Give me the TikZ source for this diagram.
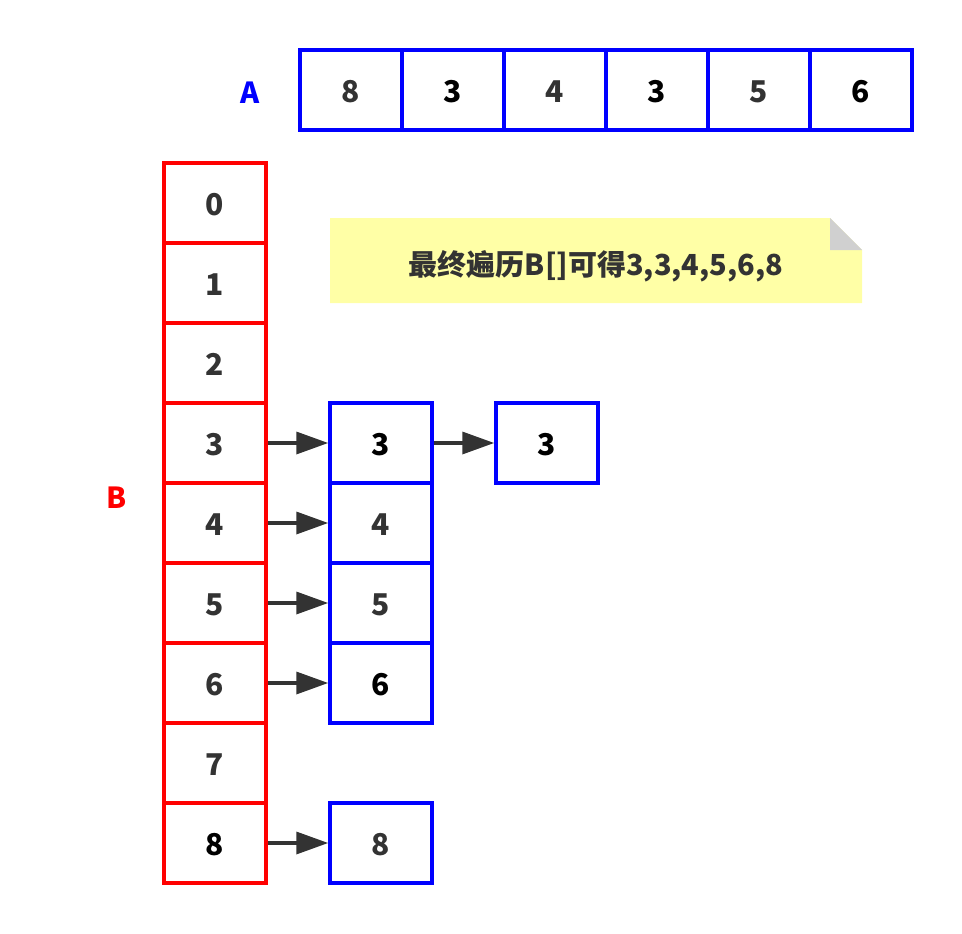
\documentclass[tikz,border=0pt]{standalone}
\usepackage{fontspec}
\setmainfont{Noto Sans CJK SC}
\usetikzlibrary{arrows.meta}
\definecolor{tgray}{HTML}{333333}
\definecolor{ablue}{HTML}{0000FF}
\definecolor{bred}{HTML}{FF0000}
\definecolor{noteyellow}{HTML}{FFFFA6}
\definecolor{foldgray}{HTML}{D0D0D0}
\tikzset{
  cell/.style={draw, line width=3.5pt, minimum width=102pt, minimum height=80pt, inner sep=0pt,
    text height=25pt, text depth=0pt,
    font=\fontsize{30}{34}\selectfont\bfseries, text=tgray},
  acell/.style={cell, draw=ablue},
  bcell/.style={cell, draw=bred},
  dark/.style={text=black},
  ptr/.style={draw=tgray, line width=3.5pt, -{Triangle[length=32pt,width=22pt]}},
  lbl/.style={font=\fontsize{29}{34}\selectfont\bfseries, inner sep=0pt}
}
\begin{document}
\begin{tikzpicture}[x=1pt,y=-1pt]
\useasboundingbox (0,0) rectangle (962,934);
% array A
\node[lbl, text=ablue] (la) at (250,93) {A};
\node[acell] (a0) at (351,90) {8};
\node[acell, dark] (a1) at (453,90) {3};
\node[acell] (a2) at (555,90) {4};
\node[acell, dark] (a3) at (657,90) {3};
\node[acell] (a4) at (759,90) {5};
\node[acell, dark] (a5) at (861,90) {6};
% array B
\node[lbl, text=bred] (lb) at (117,498) {B};
\node[bcell] (b0) at (215,203) {0};
\node[bcell] (b1) at (215,283) {1};
\node[bcell] (b2) at (215,363) {2};
\node[bcell] (b3) at (215,443) {3};
\node[bcell] (b4) at (215,523) {4};
\node[bcell] (b5) at (215,603) {5};
\node[bcell] (b6) at (215,683) {6};
\node[bcell] (b7) at (215,763) {7};
\node[bcell, dark] (b8) at (215,843) {8};
% buckets
\node[acell, dark] (c3) at (381,443) {3};
\node[acell, dark] (d3) at (547,443) {3};
\node[acell] (c4) at (381,523) {4};
\node[acell] (c5) at (381,603) {5};
\node[acell, dark] (c6) at (381,683) {6};
\node[acell] (c8) at (381,843) {8};
% arrows
\draw[ptr] (b3.east) -- (c3.west);
\draw[ptr] (c3.east) -- (d3.west);
\draw[ptr] (b4.east) -- (c4.west);
\draw[ptr] (b5.east) -- (c5.west);
\draw[ptr] (b6.east) -- (c6.west);
\draw[ptr] (b8.east) -- (c8.west);
% note
\fill[noteyellow] (330,218) -- (830,218) -- (862,250) -- (862,303) -- (330,303) -- cycle;
\fill[foldgray] (830,218) -- (862,250) -- (830,250) -- cycle;
\node[lbl, text=tgray] (note) at (596,266) {最终遍历B[]可得3,3,4,5,6,8};
\end{tikzpicture}
\end{document}
